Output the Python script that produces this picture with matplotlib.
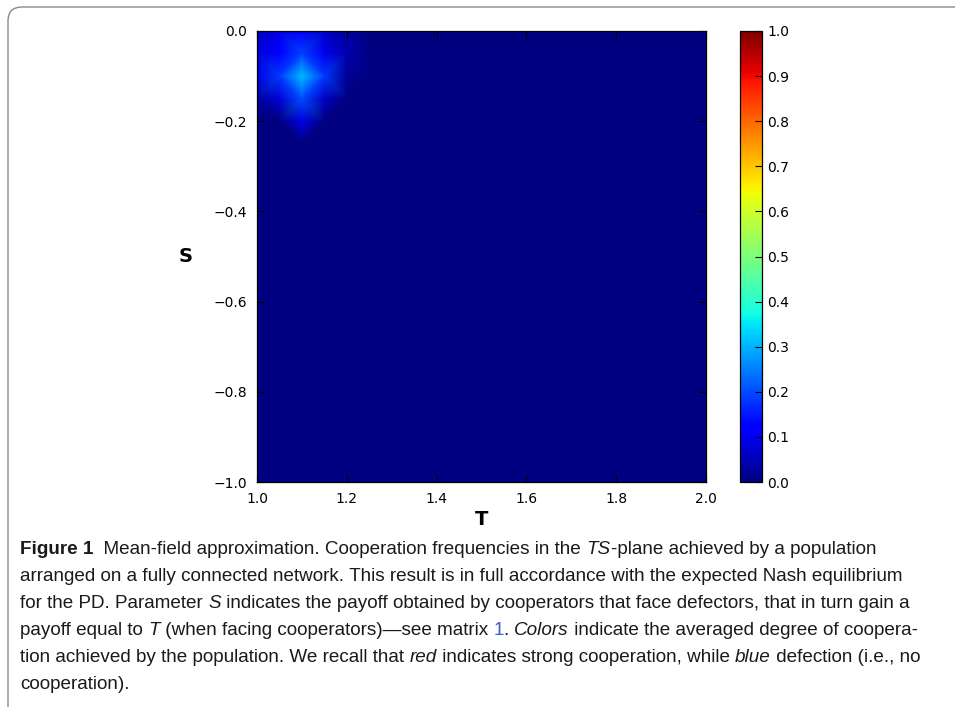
import numpy as np
import matplotlib
matplotlib.use("Agg")
import matplotlib.pyplot as plt
import matplotlib.tri as mtri
from matplotlib import font_manager
from matplotlib.path import Path
from matplotlib.patches import PathPatch
from matplotlib.transforms import IdentityTransform

# ---- data ----
T_values = [1.0, 1.05, 1.1, 1.15, 1.2, 1.25, 1.3, 1.35, 1.4, 1.45, 1.5,
            1.55, 1.6, 1.65, 1.7, 1.75, 1.8, 1.85, 1.9, 1.95, 2.0]
S_values = [0.0, -0.05, -0.1, -0.15, -0.2, -0.25, -0.3, -0.35, -0.4, -0.45, -0.5,
            -0.55, -0.6, -0.65, -0.7, -0.75, -0.8, -0.85, -0.9, -0.95, -1.0]
# cooperation level for the first rows (S = 0 ... -0.2), columns T = 1.0 ... 1.25;
# everything else is zero
coop_S000 = [0.06, 0.09, 0.11, 0.07, 0.03, 0.0]
coop_S005 = [0.08, 0.11, 0.19, 0.10, 0.04, 0.0]
coop_S010 = [0.09, 0.18, 0.31, 0.18, 0.02, 0.0]
coop_S015 = [0.03, 0.08, 0.20, 0.06, 0.0, 0.0]
coop_S020 = [0.0, 0.0, 0.09, 0.0, 0.0, 0.0]
x_ticks = [1.0, 1.2, 1.4, 1.6, 1.8, 2.0]
y_ticks = [0.0, -0.2, -0.4, -0.6, -0.8, -1.0]
cbar_ticks = [0.0, 0.1, 0.2, 0.3, 0.4, 0.5, 0.6, 0.7, 0.8, 0.9, 1.0]

nS, nT = len(S_values), len(T_values)
Z = np.zeros((nS, nT))
for r, row in enumerate([coop_S000, coop_S005, coop_S010, coop_S015, coop_S020]):
    Z[r, :len(row)] = row

W, H = 955, 711
fig = plt.figure(figsize=(W / 100, H / 100), dpi=100)

def fx(px):
    return px / W

def fy(py):
    return 1 - py / H

ax = fig.add_axes([fx(257), fy(482), (706 - 257) / W, (482 - 31) / H])
TT, SS = np.meshgrid(T_values, S_values)
idx = np.arange(nS * nT).reshape(nS, nT)
tris = []
for j in range(nS - 1):
    for i in range(nT - 1):
        a, b, c, d = idx[j, i], idx[j, i + 1], idx[j + 1, i], idx[j + 1, i + 1]
        if (i + j) % 2 == 0:
            tris += [[a, b, c], [b, d, c]]
        else:
            tris += [[a, b, d], [a, d, c]]
tri = mtri.Triangulation(TT.ravel(), SS.ravel(), np.array(tris))
mesh = ax.tripcolor(tri, Z.ravel(), shading="gouraud", cmap="jet", vmin=0, vmax=1)
ax.set_xlim(1.0, 2.0)
ax.set_ylim(-1.0, 0.0)
ax.set_xticks(x_ticks)
ax.set_yticks(y_ticks)
ax.set_xticklabels([f"{v:.1f}" for v in x_ticks])
ax.set_yticklabels([f"{v:.1f}".replace("-", "\u2212") for v in y_ticks])
ax.tick_params(direction="in", length=5, width=0.8, top=True, right=True,
               labelsize=10, pad=7)
ax.set_xlabel("T", fontsize=14, fontweight="bold", labelpad=3)
ax.set_ylabel("S", fontsize=14, fontweight="bold", rotation=0, labelpad=20, va="center")
for sp in ax.spines.values():
    sp.set_linewidth(0.9)

cax = fig.add_axes([fx(740), fy(482), 22 / W, (482 - 31) / H])
cb = fig.colorbar(mesh, cax=cax, ticks=cbar_ticks)
cb.ax.set_yticklabels([f"{v:.1f}" for v in cbar_ticks])
cb.ax.tick_params(direction="in", length=5, width=0.8, labelsize=10, pad=4)
cb.outline.set_linewidth(0.9)

# ---- border (rounded corner at top-left) ----
r = 14
x0, y0 = 8, 7
verts = [(x0, H - 707), (x0, H - (y0 + r)), (x0, H - y0), (x0 + r, H - y0), (W + 5, H - y0)]
codes = [Path.MOVETO, Path.LINETO, Path.CURVE3, Path.CURVE3, Path.LINETO]
fig.add_artist(PathPatch(Path(verts, codes), transform=IdentityTransform(),
                         fill=False, edgecolor="#8a8a8a", lw=1.0))

# ---- caption ----
names = {f.name for f in font_manager.fontManager.ttflist}
cap_font = "Liberation Sans Narrow" if "Liberation Sans Narrow" in names else "Liberation Sans"

lines = [
    [("Figure 1", "b"), ("  Mean-field approximation. Cooperation frequencies in the ", "n"),
     ("TS", "i"), ("-plane achieved by a population", "n")],
    [("arranged on a fully connected network. This result is in full accordance with the expected Nash equilibrium", "n")],
    [("for the PD. Parameter ", "n"), ("S", "i"),
     (" indicates the payoff obtained by cooperators that face defectors, that in turn gain a", "n")],
    [("payoff equal to ", "n"), ("T", "i"), (" (when facing cooperators)\u2014see matrix ", "n"),
     ("1", "link"), (". ", "n"), ("Colors", "i"), (" indicate the averaged degree of coopera-", "n")],
    [("tion achieved by the population. We recall that ", "n"), ("red", "i"),
     (" indicates strong cooperation, while ", "n"), ("blue", "i"), (" defection (i.e., no", "n")],
    [("cooperation).", "n")],
]
baselines = [554, 581, 608, 635, 662, 689]

renderer = fig.canvas.get_renderer()

def style_kw(st, size):
    kw = dict(fontsize=size, family=cap_font, color="#1a1a1a")
    if st == "b":
        kw["fontweight"] = "bold"
    if st == "i":
        kw["fontstyle"] = "italic"
    if st == "link":
        kw["color"] = "#3a5fcd"
    return kw

probe = fig.text(0, 0, lines[1][0][0], **style_kw("n", 12))
wprobe = probe.get_window_extent(renderer).width
probe.remove()
size = 12 * 888 / wprobe

def seg_width(txt, st):
    t = fig.text(0, 0, txt.replace(" ", "\u00a0"), **style_kw(st, size))
    w = t.get_window_extent(renderer).width
    t.remove()
    return w

for segs, yb in zip(lines, baselines):
    x = 20
    for txt, st in segs:
        fig.text(fx(x), fy(yb), txt.replace(" ", "\u00a0"), va="baseline", ha="left",
                 **style_kw(st, size))
        x += seg_width(txt, st)

fig.savefig("out.png", dpi=100)
